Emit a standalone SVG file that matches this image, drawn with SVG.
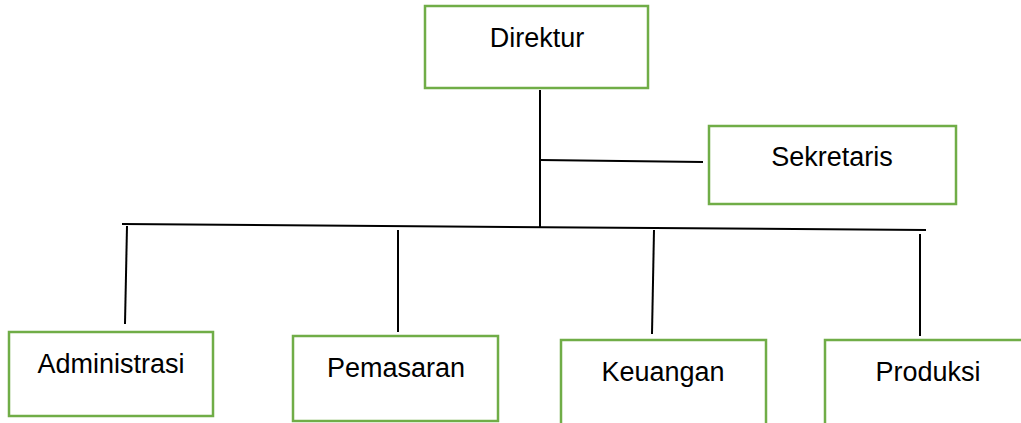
<svg xmlns="http://www.w3.org/2000/svg" width="1021" height="423" viewBox="0 0 1021 423">
<style>
.box{fill:#ffffff;stroke:#70AD47;stroke-width:2.5}
.lbl{font-family:"Liberation Sans",Arial,sans-serif;font-size:27px;fill:#000;text-anchor:middle}
.ln{stroke:#000;stroke-width:2;fill:none}
</style>
<rect width="1021" height="423" fill="#ffffff"/>
<g id="connectors">
<line class="ln" x1="540" y1="90" x2="540" y2="227"/>
<line class="ln" x1="540" y1="160" x2="703" y2="162"/>
<line class="ln" x1="122" y1="224" x2="926" y2="230"/>
<line class="ln" x1="127" y1="226" x2="125" y2="324"/>
<line class="ln" x1="398" y1="230" x2="398" y2="332"/>
<line class="ln" x1="654" y1="230" x2="652" y2="334"/>
<line class="ln" x1="920" y1="234" x2="920" y2="336"/>
</g>
<g id="direktur">
<rect class="box" x="425" y="6" width="223" height="82"/>
<text class="lbl" x="537" y="47">Direktur</text>
</g>
<g id="sekretaris">
<rect class="box" x="709" y="126" width="247" height="78"/>
<text class="lbl" x="832" y="166">Sekretaris</text>
</g>
<g id="administrasi">
<rect class="box" x="9" y="332" width="204" height="84"/>
<text class="lbl" x="111" y="373">Administrasi</text>
</g>
<g id="pemasaran">
<rect class="box" x="293" y="336" width="205" height="85"/>
<text class="lbl" x="396" y="377">Pemasaran</text>
</g>
<g id="keuangan">
<rect class="box" x="561" y="340" width="205" height="90"/>
<text class="lbl" x="663" y="381">Keuangan</text>
</g>
<g id="produksi">
<rect class="box" x="825" y="340" width="205" height="90"/>
<text class="lbl" x="928" y="381">Produksi</text>
</g>
</svg>
